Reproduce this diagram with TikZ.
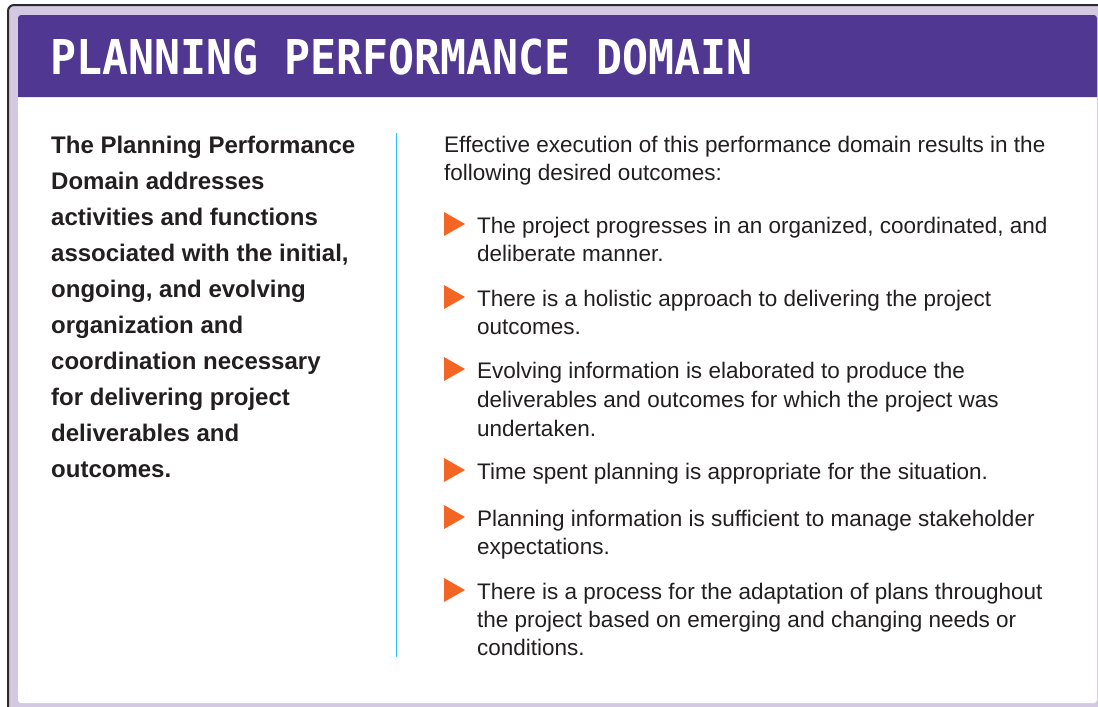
\documentclass[tikz,border=0pt]{standalone}
\usepackage{fontspec}
\setmainfont{Liberation Sans}
\newfontfamily\headfont[FakeStretch=0.9]{DejaVu Sans Mono}
\usetikzlibrary{positioning}
\definecolor{domainPurple}{RGB}{80,55,145}
\definecolor{frameLavender}{RGB}{211,201,227}
\definecolor{frameDark}{RGB}{45,42,45}
\definecolor{ruleCyan}{RGB}{41,196,234}
\definecolor{bulletOrange}{RGB}{242,101,34}
\definecolor{bodyText}{RGB}{35,31,32}
\begin{document}
\begin{tikzpicture}[x=1pt, y=-1pt, every node/.style={inner sep=0pt, anchor=base west, text=bodyText},
	intro/.style={font=\fontsize{22.5}{28}\selectfont, align=left},
	outcome/.style={font=\fontsize{22.5}{28}\selectfont, align=left},
	summary/.style={font=\fontsize{24}{36}\selectfont\bfseries, align=left},
	bullet/.style={fill=bulletOrange}]
	\useasboundingbox (0,0) rectangle (1098,707);
	\fill[white] (0,0) rectangle (1098,707);
	\fill[frameLavender, rounded corners=6] (8,5) rectangle (1120,730);
	\draw[frameDark, line width=2pt, rounded corners=6] (8,730) |- (1120,5);
	\fill[white, rounded corners=3] (18,15) rectangle (1097,703);
	\fill[domainPurple] (18,97) [rounded corners=3] -- (18,15) -- (1097,15) [sharp corners] -- (1097,97) -- cycle;
	\node[text=white, font=\fontsize{48}{48}\selectfont\headfont\bfseries] (title) at (50,74) {PLANNING PERFORMANCE DOMAIN};

	\node[summary] (summary) at (51,477) {The Planning Performance\\Domain addresses\\activities and functions\\associated with the initial,\\ongoing, and evolving\\organization and\\coordination necessary\\for delivering project\\deliverables and\\outcomes.};
	\draw[ruleCyan, line width=1.8pt] (396.5,133) -- (396.5,657);

	\node[intro] (intro) at (444,180) {Effective execution of this performance domain results in the\\following desired outcomes:};
	\node[outcome] (outA) at (477,261) {The project progresses in an organized, coordinated, and\\deliberate manner.};
	\node[outcome] (outB) at (477,334) {There is a holistic approach to delivering the project\\outcomes.};
	\node[outcome, font=\fontsize{22.5}{29}\selectfont] (outC) at (477,436) {Evolving information is elaborated to produce the\\deliverables and outcomes for which the project was\\undertaken.};
	\node[outcome] (outD) at (477,479) {Time spent planning is appropriate for the situation.};
	\node[outcome] (outE) at (477,554) {Planning information is sufficient to manage stakeholder\\expectations.};
	\node[outcome] (outF) at (477,655) {There is a process for the adaptation of plans throughout\\the project based on emerging and changing needs or\\conditions.};
	\fill[bullet] (444,212) -- (465,224) -- (444,236) -- cycle;
	\fill[bullet] (444,285) -- (465,297) -- (444,309) -- cycle;
	\fill[bullet] (444,357) -- (465,369) -- (444,381) -- cycle;
	\fill[bullet] (444,458) -- (465,470) -- (444,482) -- cycle;
	\fill[bullet] (444,505) -- (465,517) -- (444,529) -- cycle;
	\fill[bullet] (444,578) -- (465,590) -- (444,602) -- cycle;
\end{tikzpicture}
\end{document}
